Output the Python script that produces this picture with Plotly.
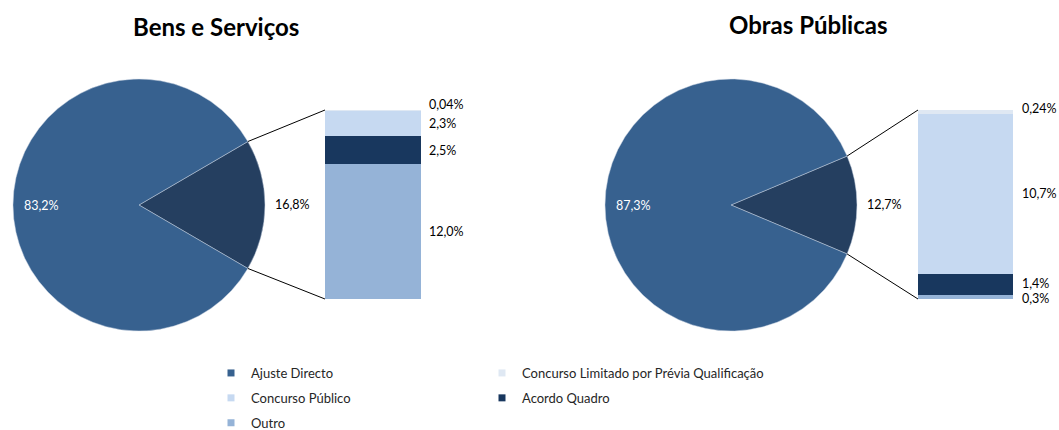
import math
import plotly.graph_objects as go

# ---------------- data ----------------
titles = ["Bens e Serviços", "Obras Públicas"]
pie_labels = ["Outros procedimentos", "Ajuste Directo"]
pie_bens = [16.8, 83.2]
pie_obras = [12.7, 87.3]

# stacked bar, bottom -> top
bar_categories = ["Outro", "Acordo Quadro", "Concurso Público",
                  "Concurso Limitado por Prévia Qualificação"]
bar_bens = [12.0, 2.5, 2.3, 0.04]
bar_obras = [0.3, 1.4, 10.7, 0.24]
bar_text_bens = ["12,0%", "2,5%", "2,3%", "0,04%"]
bar_text_obras = ["0,3%", "1,4%", "10,7%", "0,24%"]

legend_col1 = ["Ajuste Directo", "Concurso Público", "Outro"]
legend_col2 = ["Concurso Limitado por Prévia Qualificação", "Acordo Quadro"]

# ---------------- style ----------------
W, H = 1059, 430
FONT = "Lato"
colors = {
    "Ajuste Directo": "#37618f",
    "Outros procedimentos": "#253f60",
    "Outro": "#95b3d7",
    "Acordo Quadro": "#18375e",
    "Concurso Público": "#c6d9f1",
    "Concurso Limitado por Prévia Qualificação": "#dfe8f3",
}
pie_centers = [(139, 205), (731, 205)]
R = 126
bar_px = [(325, 421), (918, 1013)]
bar_top, bar_bot = 110, 299
title_pos = [(216, 26), (808, 25)]
label_yshift = [[0, 0, 0, 6], [-2, 1, 0, 3]]
label_xshift = [6, 7]


def fmt(v):
    return f"{v:.1f}%".replace(".", ",")


fig = go.Figure()
annotations = []
shapes = []

pies = [pie_bens, pie_obras]
bars = [bar_bens, bar_obras]
bar_texts = [bar_text_bens, bar_text_obras]

for i in range(2):
    cx, cy = pie_centers[i]
    vals = pies[i]
    total = sum(vals)
    small_deg = vals[0] / total * 360
    rotation = 90 - small_deg / 2
    fig.add_trace(go.Pie(
        values=vals, labels=pie_labels, sort=False, direction="clockwise",
        rotation=rotation, textinfo="none", hoverinfo="label+percent",
        marker=dict(colors=[colors[l] for l in pie_labels],
                    line=dict(color="rgba(200,210,225,0.8)", width=0.6)),
        domain=dict(x=[(cx - R) / W, (cx + R) / W],
                    y=[1 - (cy + R) / H, 1 - (cy - R) / H]),
        showlegend=False,
    ))
    # pie labels
    mids = [rotation + small_deg / 2, rotation + small_deg + (360 - small_deg) / 2]
    ks = [1.22, 0.77]
    tcolors = ["#000000", "#ffffff"]
    for v, m, k, tc in zip(vals, mids, ks, tcolors):
        a = math.radians(m)
        px = cx + k * R * math.sin(a)
        py = cy - k * R * math.cos(a)
        annotations.append(dict(x=px / W, y=1 - py / H, xref="paper", yref="paper",
                                xanchor="center", yanchor="middle",
                                text=fmt(v), showarrow=False,
                                font=dict(family=FONT, size=12.5, color=tc)))
    # connector lines
    x0b, x1b = bar_px[i]
    for ang, by in [(rotation, bar_top), (rotation + small_deg, bar_bot)]:
        a = math.radians(ang)
        ex = cx + R * math.sin(a)
        ey = cy - R * math.cos(a)
        shapes.append(dict(type="line", xref="paper", yref="paper",
                           x0=ex / W, y0=1 - ey / H, x1=x0b / W, y1=1 - by / H,
                           line=dict(color="black", width=1)))

    # stacked bar
    xa = "x" if i == 0 else "x2"
    ya = "y" if i == 0 else "y2"
    cum = 0
    for cat, v, t, ys in zip(bar_categories, bars[i], bar_texts[i], label_yshift[i]):
        fig.add_trace(go.Bar(x=[0], y=[v], width=[1], xaxis=xa, yaxis=ya,
                             marker=dict(color=colors[cat], line=dict(width=0)),
                             name=cat, showlegend=False, hoverinfo="name+y"))
        annotations.append(dict(x=0.5, y=cum + v / 2, xref=xa, yref=ya,
                                text=t, showarrow=False, xanchor="left", yanchor="middle",
                                xshift=label_xshift[i], yshift=ys,
                                font=dict(family=FONT, size=12.5, color="black")))
        cum += v

    tx, ty = title_pos[i]
    annotations.append(dict(x=tx / W, y=1 - ty / H, xref="paper", yref="paper",
                            xanchor="center", yanchor="middle",
                            text=f"<b>{titles[i]}</b>", showarrow=False,
                            font=dict(family=FONT, size=24, color="black")))

# legend entries
for j, name in enumerate(legend_col1):
    fig.add_trace(go.Scatter(x=[None], y=[None], mode="markers", name=name,
                             marker=dict(symbol="square", size=7, color=colors[name]),
                             legend="legend", legendgroup=f"a{j}"))
for j, name in enumerate(legend_col2):
    fig.add_trace(go.Scatter(x=[None], y=[None], mode="markers", name=name,
                             marker=dict(symbol="square", size=7, color=colors[name]),
                             legend="legend2", legendgroup=f"b{j}"))

axis_hidden = dict(visible=False, showgrid=False, zeroline=False, fixedrange=True)
leg_font = dict(family=FONT, size=13, color="#262626")
fig.update_layout(
    width=W, height=H, margin=dict(l=0, r=0, t=0, b=0, autoexpand=False),
    paper_bgcolor="white", plot_bgcolor="rgba(0,0,0,0)",
    barmode="stack", bargap=0,
    xaxis=dict(domain=[bar_px[0][0] / W, bar_px[0][1] / W], range=[-0.5, 0.5], **axis_hidden),
    yaxis=dict(domain=[1 - bar_bot / H, 1 - bar_top / H], range=[0, sum(bar_bens)], **axis_hidden),
    xaxis2=dict(domain=[bar_px[1][0] / W, bar_px[1][1] / W], range=[-0.5, 0.5], anchor="y2", **axis_hidden),
    yaxis2=dict(domain=[1 - bar_bot / H, 1 - bar_top / H], range=[0, sum(bar_obras)], anchor="x2", **axis_hidden),
    legend=dict(x=211 / W, y=1 - 358 / H, xanchor="left", yanchor="top",
                font=leg_font, tracegroupgap=5, bgcolor="rgba(0,0,0,0)"),
    legend2=dict(x=482 / W, y=1 - 358 / H, xanchor="left", yanchor="top",
                 font=leg_font, tracegroupgap=5, bgcolor="rgba(0,0,0,0)"),
    annotations=annotations, shapes=shapes,
    font=dict(family=FONT),
)

fig.write_html("out.html", config={"displayModeBar": False},
               post_script="document.body.style.margin='0';document.body.style.padding='0';")
